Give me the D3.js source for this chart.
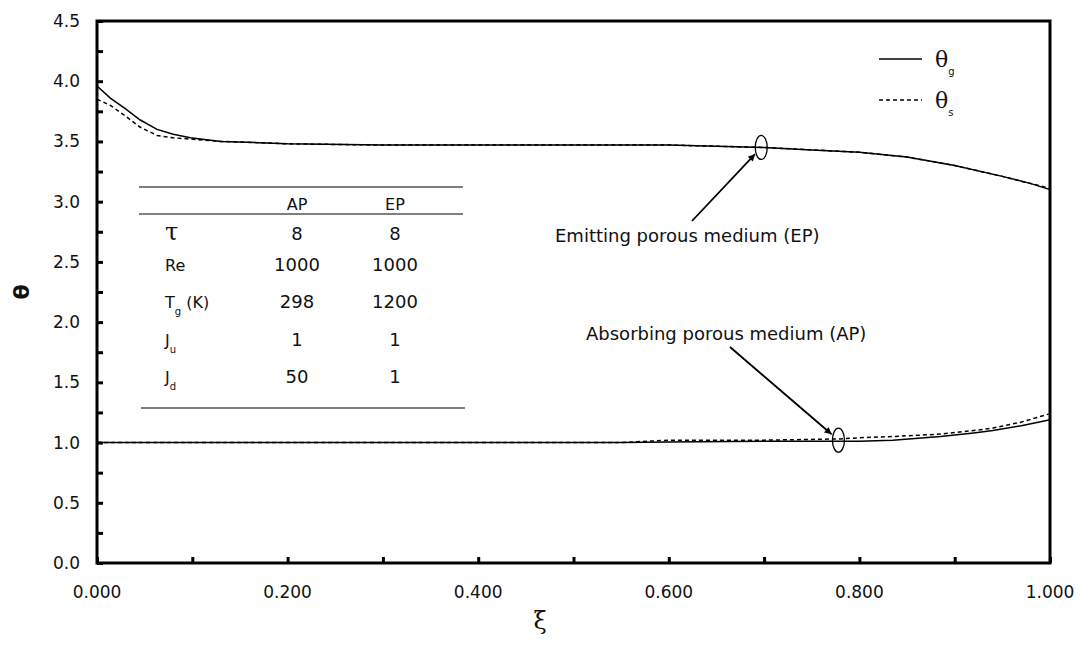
<!DOCTYPE html>
<html>
<head>
<meta charset="utf-8">
<script src="https://cdn.jsdelivr.net/npm/d3@7"></script>
<style>
  body { margin: 0; background: #fff; }
  text { font-family: "DejaVu Sans", Arial, sans-serif; fill: #111; }
</style>
</head>
<body>
<div id="chart"></div>
<script>
'use strict';

// data
const epXi     = [0, 0.014, 0.03, 0.045, 0.063, 0.08, 0.098, 0.13, 0.17, 0.2, 0.3, 0.4, 0.5, 0.6, 0.7, 0.75, 0.8, 0.85, 0.9, 0.95, 0.98, 1.0];
const epGas    = [3.96, 3.86, 3.77, 3.68, 3.6, 3.56, 3.53, 3.5, 3.49, 3.48, 3.47, 3.47, 3.47, 3.47, 3.45, 3.43, 3.41, 3.37, 3.3, 3.21, 3.15, 3.1];
const epSolid  = [3.85, 3.8, 3.71, 3.62, 3.55, 3.53, 3.52, 3.5, 3.49, 3.48, 3.47, 3.47, 3.47, 3.47, 3.45, 3.43, 3.41, 3.37, 3.3, 3.21, 3.15, 3.11];
const apXi     = [0, 0.2, 0.4, 0.55, 0.6, 0.7, 0.78, 0.8, 0.835, 0.885, 0.92, 0.94, 0.97, 1.0];
const apGas    = [1.0, 1.0, 1.0, 1.0, 1.005, 1.01, 1.01, 1.01, 1.02, 1.05, 1.08, 1.1, 1.14, 1.19];
const apSolid  = [1.0, 1.0, 1.0, 1.0, 1.02, 1.02, 1.03, 1.04, 1.05, 1.07, 1.1, 1.12, 1.17, 1.24];

const xTicks = [0, 0.2, 0.4, 0.6, 0.8, 1.0];
const xMinor = d3.range(0, 1.0001, 0.1);
const yTicks = [0, 0.5, 1.0, 1.5, 2.0, 2.5, 3.0, 3.5, 4.0, 4.5];
const yMinor = d3.range(0, 4.5001, 0.25);

const tableCols = ["AP", "EP"];
const tableRows = [
  {name: "τ",  sub: "",  vals: ["8", "8"]},
  {name: "Re", sub: "",  vals: ["1000", "1000"]},
  {name: "T",  sub: "g", vals: ["298", "1200"], tail: " (K)"},
  {name: "J",  sub: "u", vals: ["1", "1"]},
  {name: "J",  sub: "d", vals: ["50", "1"]}
];

const W = 1082, H = 661;
const margin = {top: 21, right: 32, bottom: 98, left: 97};

const svg = d3.select("#chart").append("svg")
  .attr("width", W).attr("height", H);

const x = d3.scaleLinear().domain([0, 1]).range([margin.left, W - margin.right]);
const y = d3.scaleLinear().domain([0, 4.5]).range([H - margin.bottom, margin.top]);

// frame
svg.append("rect")
  .attr("x", x(0)).attr("y", y(4.5))
  .attr("width", x(1) - x(0)).attr("height", y(0) - y(4.5))
  .attr("fill", "none").attr("stroke", "#000").attr("stroke-width", 3);

// axes, ticks point inward
const yAxis = svg.append("g").attr("transform", "translate(" + x(0) + ",0)")
  .call(d3.axisRight(y).tickValues(yMinor).tickSize(6).tickFormat(""));
yAxis.select(".domain").remove();
yAxis.selectAll("line").attr("stroke-width", 3);

const xAxis = svg.append("g").attr("transform", "translate(0," + y(0) + ")")
  .call(d3.axisTop(x).tickValues(xMinor).tickSize(6).tickFormat(""));
xAxis.select(".domain").remove();
xAxis.selectAll("line").attr("stroke-width", 3);

// tick labels
svg.selectAll(".ylab").data(yTicks).enter().append("text")
  .attr("x", x(0) - 17).attr("y", d => y(d) + 6)
  .attr("text-anchor", "end").style("font-size", "17px")
  .text(d => d.toFixed(1));

svg.selectAll(".xlab").data(xTicks).enter().append("text")
  .attr("x", d => x(d)).attr("y", y(0) + 35)
  .attr("text-anchor", "middle").style("font-size", "17px")
  .text(d => d.toFixed(3));

// axis titles
svg.append("text").attr("x", 540).attr("y", 629)
  .attr("text-anchor", "middle").style("font-size", "24px").style("font-family", "DejaVu Serif")
  .text("ξ");
svg.append("text").attr("transform", "translate(29,292) rotate(-90)")
  .attr("text-anchor", "middle").style("font-size", "22px").style("font-weight", "bold")
  .text("θ");

// curves
const line = d3.line().x(d => x(d[0])).y(d => y(d[1]));
const series = [
  {xs: epXi, ys: epGas, dash: null},
  {xs: epXi, ys: epSolid, dash: "4,3"},
  {xs: apXi, ys: apGas, dash: null},
  {xs: apXi, ys: apSolid, dash: "4,3"}
];
series.forEach(s => {
  svg.append("path")
    .datum(s.xs.map((v, i) => [v, s.ys[i]]))
    .attr("d", line)
    .attr("fill", "none").attr("stroke", "#000").attr("stroke-width", 1.5)
    .attr("stroke-dasharray", s.dash);
});

// legend
const legend = [{label: "g", dash: null, yy: 59}, {label: "s", dash: "4,3", yy: 100}];
legend.forEach(l => {
  svg.append("line").attr("x1", 879).attr("x2", 922).attr("y1", l.yy).attr("y2", l.yy)
    .attr("stroke", "#000").attr("stroke-width", 1.5).attr("stroke-dasharray", l.dash);
  const t = svg.append("text").attr("x", 935).attr("y", l.yy + 8).style("font-size", "22px")
    .style("font-family", "DejaVu Serif");
  t.append("tspan").text("θ");
  t.append("tspan").attr("dy", 8).style("font-size", "10px")
    .style("font-family", "DejaVu Sans").text(l.label);
});

// parameter table
const colX = [297, 395];
const tl = svg.append("g");
[[187, 139, 463], [214, 139, 463], [408, 141, 465]].forEach(r => {
  tl.append("line").attr("x1", r[1]).attr("x2", r[2]).attr("y1", r[0]).attr("y2", r[0])
    .attr("stroke", "#000").attr("stroke-width", 1.2);
});
tableCols.forEach((c, i) => {
  tl.append("text").attr("x", colX[i]).attr("y", 210).attr("text-anchor", "middle")
    .style("font-size", "16px").text(c);
});
const rowY = [240, 271, 308, 346, 383];
tableRows.forEach((r, j) => {
  const t = tl.append("text").attr("x", 165).attr("y", rowY[j]).style("font-size", "16px");
  if (r.name === "τ") {
    t.style("font-size", "24px").style("font-family", "DejaVu Serif").text(r.name);
  } else {
    t.append("tspan").text(r.name);
    if (r.sub) t.append("tspan").attr("dy", 7).style("font-size", "10px").text(r.sub);
    if (r.tail) t.append("tspan").attr("dy", -7).text(r.tail);
  }
  r.vals.forEach((v, i) => {
    tl.append("text").attr("x", colX[i]).attr("y", rowY[j]).attr("text-anchor", "middle")
      .style("font-size", "18px").text(v);
  });
});

// annotations
svg.append("defs").append("marker")
  .attr("id", "arrow").attr("viewBox", "0 0 10 10").attr("refX", 10).attr("refY", 5)
  .attr("markerWidth", 9).attr("markerHeight", 7).attr("orient", "auto")
  .attr("markerUnits", "userSpaceOnUse")
  .append("path").attr("d", "M0,0 L10,5 L0,10 z").attr("fill", "#000");

const notes = [
  {text: "Emitting porous medium (EP)", tx: 555, ty: 242, from: [692, 221], xi: 0.697, th: 3.45},
  {text: "Absorbing porous medium (AP)", tx: 586, ty: 340, from: [730, 347], xi: 0.778, th: 1.02}
];
notes.forEach(n => {
  svg.append("text").attr("x", n.tx).attr("y", n.ty).style("font-size", "18px").text(n.text);
  svg.append("ellipse").attr("cx", x(n.xi)).attr("cy", y(n.th)).attr("rx", 6).attr("ry", 12)
    .attr("fill", "none").attr("stroke", "#000").attr("stroke-width", 1.3);
  const ex = x(n.xi), ey = y(n.th);
  const dx = ex - n.from[0], dy = ey - n.from[1];
  const len = Math.sqrt(dx * dx + dy * dy);
  const stop = len - 9;
  svg.append("line")
    .attr("x1", n.from[0]).attr("y1", n.from[1])
    .attr("x2", n.from[0] + dx * stop / len).attr("y2", n.from[1] + dy * stop / len)
    .attr("stroke", "#000").attr("stroke-width", 1.8).attr("marker-end", "url(#arrow)");
});
</script>
</body>
</html>
